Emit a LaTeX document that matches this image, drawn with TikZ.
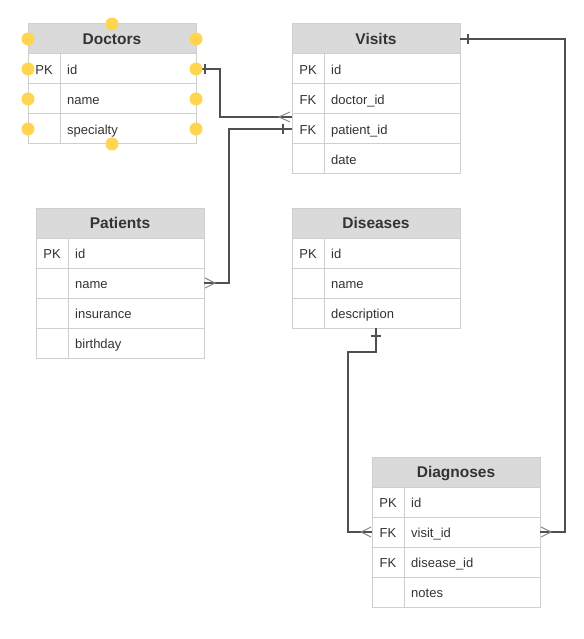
\documentclass[tikz,border=0pt]{standalone}
\usepackage{fontspec}
\setmainfont{Liberation Sans}
\usetikzlibrary{calc}
\definecolor{hdrfill}{HTML}{DADADA}
\definecolor{bordc}{HTML}{CFCFCF}
\definecolor{txtc}{HTML}{333333}
\definecolor{linec}{HTML}{505050}
\definecolor{dotc}{HTML}{FFD54F}
\tikzset{
 tblhdr/.style={draw=bordc, fill=hdrfill, line width=1pt, minimum width=168pt, minimum height=30pt, inner sep=0pt, outer sep=0pt, anchor=north west},
 hdrtxt/.style={text=txtc, font=\fontsize{15.5}{18}\selectfont\bfseries, inner sep=0pt, text height=13pt, text depth=2.4pt},
 tblrow/.style={draw=bordc, fill=white, line width=1pt, minimum width=168pt, minimum height=30pt, inner sep=0pt, outer sep=0pt, anchor=north west},
 keytxt/.style={text=txtc, font=\fontsize{13}{15}\selectfont, inner sep=0pt, text height=12.5pt, text depth=2pt},
 fldtxt/.style={keytxt, anchor=west},
 conn/.style={draw=linec, line width=1.1pt},
 crow/.style={draw=linec!70, line width=0.9pt},
 yeldot/.style={fill=dotc}
}
\newcommand{\ertable}[5]{%
 \node[tblhdr] (#1-h) at (#2,#3) {};
 \node[hdrtxt] (#1-t) at (#1-h.center) {#4};
 \foreach \k/\f [count=\i] in {#5} {
   \node[tblrow] (#1-\i) at ($(#2,#3)+(0,30*\i)$) {};
   \draw[draw=bordc, line width=1pt] ([xshift=32pt]#1-\i.north west) -- ([xshift=32pt]#1-\i.south west);
   \node[keytxt] at ([xshift=16pt]#1-\i.west) {\k};
   \node[fldtxt] at ([xshift=39pt]#1-\i.west) {\f};
 }
}
\begin{document}
\begin{tikzpicture}[x=1pt,y=-1pt]
\useasboundingbox (0,0) rectangle (583,639);
\fill[white] (0,0) rectangle (583,639);
\ertable{doc}{28}{24}{Doctors}{PK/id,{}/name,{}/specialty}
\ertable{vis}{292}{24}{Visits}{PK/id,FK/doctor\_id,FK/patient\_id,{}/date}
\ertable{pat}{36}{208}{Patients}{PK/id,{}/name,{}/insurance,{}/birthday}
\ertable{dis}{292}{208}{Diseases}{PK/id,{}/name,{}/description}
\ertable{dia}{372}{457}{Diagnoses}{PK/id,FK/visit\_id,FK/disease\_id,{}/notes}
% Doctors -> Visits.doctor_id
\coordinate (c1) at ([yshift=-3pt]vis-2.south west);
\draw[conn] (doc-1.east) -- ++(24,0) |- (c1);
\draw[conn] ([xshift=9pt,yshift=5pt]doc-1.east) -- ([xshift=9pt,yshift=-5pt]doc-1.east);
\draw[crow] ([xshift=-2pt,yshift=5pt]c1) -- ([xshift=-13pt]c1) -- ([xshift=-2pt,yshift=-5pt]c1);
% Patients.name -> Visits.patient_id
\draw[conn] (pat-2.east) -- ++(25,0) |- (vis-3.west);
\draw[conn] ([xshift=-9pt,yshift=5pt]vis-3.west) -- ([xshift=-9pt,yshift=-5pt]vis-3.west);
\draw[crow] ([xshift=1pt,yshift=5pt]pat-2.east) -- ([xshift=11pt]pat-2.east) -- ([xshift=1pt,yshift=-5pt]pat-2.east);
% Visits -> Diagnoses.visit_id
\draw[conn] (vis-h.east) -- ++(105,0) |- (dia-2.east);
\draw[conn] ([xshift=8pt,yshift=5pt]vis-h.east) -- ([xshift=8pt,yshift=-5pt]vis-h.east);
\draw[crow] ([xshift=1pt,yshift=5pt]dia-2.east) -- ([xshift=11pt]dia-2.east) -- ([xshift=1pt,yshift=-5pt]dia-2.east);
% Diseases -> Diagnoses.disease_id
\draw[conn] (dis-3.south) -- ++(0,24) -| ([xshift=-24pt]dia-2.west) -- (dia-2.west);
\draw[conn] ([xshift=-5pt,yshift=-8pt]dis-3.south) -- ([xshift=5pt,yshift=-8pt]dis-3.south);
\draw[crow] ([xshift=-1pt,yshift=5pt]dia-2.west) -- ([xshift=-11pt]dia-2.west) -- ([xshift=-1pt,yshift=-5pt]dia-2.west);
% selection handles on Doctors
\foreach \a in {doc-h.north, doc-3.south, doc-h.west, doc-1.west, doc-2.west, doc-3.west, doc-h.east, doc-1.east, doc-2.east, doc-3.east}
  \fill[yeldot] (\a) circle (6.5pt);
\end{tikzpicture}
\end{document}
